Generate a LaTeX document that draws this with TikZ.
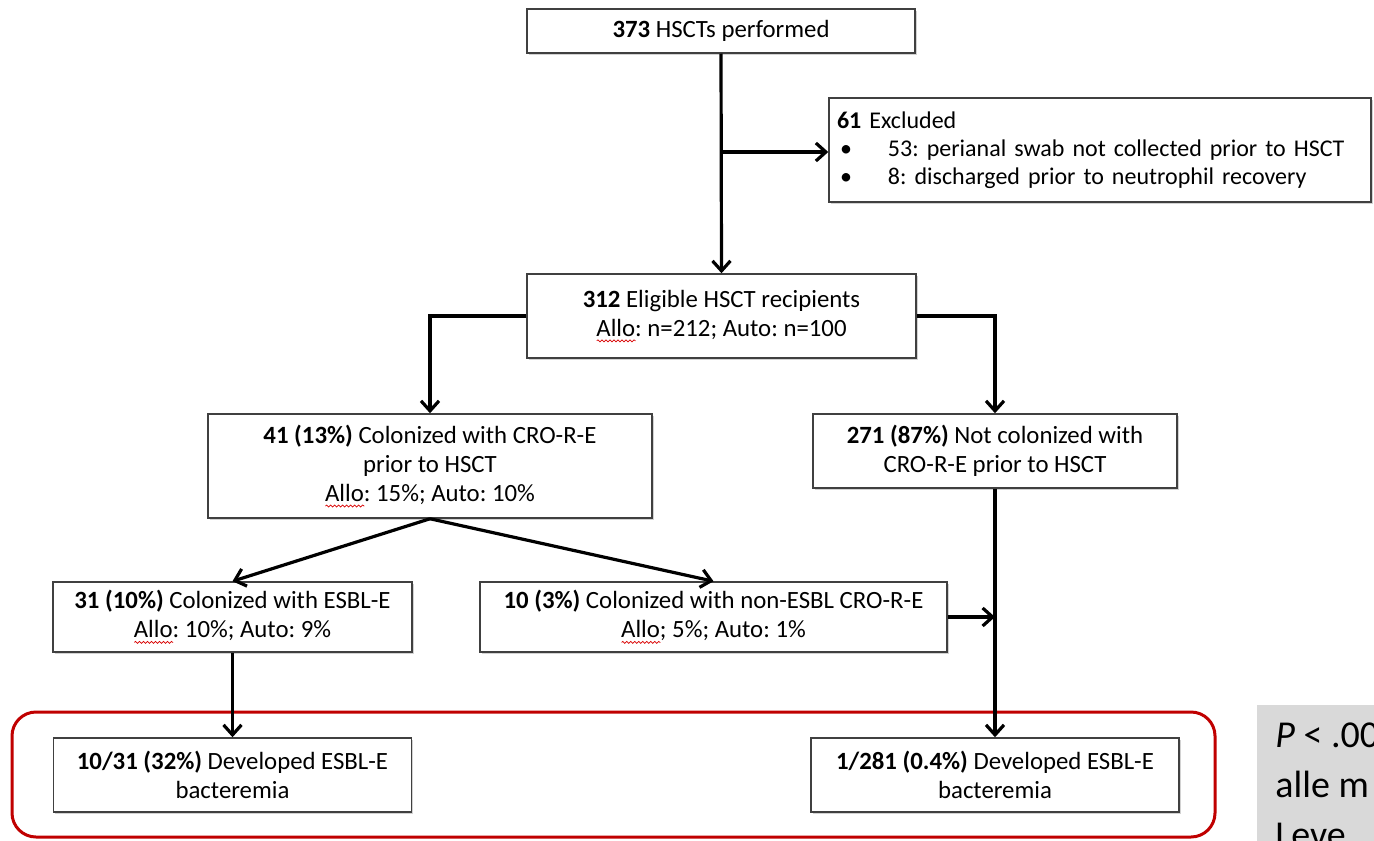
\documentclass[tikz,border=0pt]{standalone}
\usepackage{fontspec}
\setmainfont{Carlito}
\frenchspacing
\usetikzlibrary{arrows.meta,shadows,decorations.pathmorphing}
\definecolor{boxline}{gray}{0.25}
\definecolor{redline}{RGB}{192,0,0}
\definecolor{grayfill}{RGB}{217,217,217}
\newlength\wavylen
\newcommand\wavy[1]{\settowidth\wavylen{#1}\rlap{\tikz[baseline=0pt,x=1pt,y=1pt]\draw[draw=red!85!black,fill=none,line width=0.35pt,decorate,decoration={snake,amplitude=0.5pt,segment length=2pt}] (0pt,-2.3pt) -- (\wavylen,-2.3pt);}#1}
\tikzset{
  box/.style={draw=boxline, line width=0.75pt, fill=white, inner sep=0pt, align=center,
    font=\fontsize{12.4}{14.6}\selectfont,
    drop shadow={shadow xshift=0.8pt, shadow yshift=-0.8pt, opacity=0.35}},
  conn/.style={line width=1.6pt, -{Straight Barb[length=5pt,width=9pt]}},
}
\begin{document}
\begin{tikzpicture}[x=0.5pt,y=-0.5pt]
\clip (0,0) rectangle (1374,840);
\fill[white] (0,0) rectangle (1374,840);
% red highlight
\draw[redline, line width=1.5pt, rounded corners=12pt] (12,712) rectangle (1215,837);
% grey note
\fill[grayfill] (1257,705) rectangle (1400,860);
\node[anchor=north west, align=left, inner sep=0pt, font=\fontsize{19}{25}\selectfont] (pv) at (1275,722)
  {\textit{P} < .00\\alle m\\Leve};
% boxes
\node[box, minimum width=194pt, minimum height=22pt] (top) at (721,31) {\textbf{373} HSCTs performed};
\node[box, minimum width=271pt, minimum height=52pt, align=left, text width=263pt,
      font=\fontsize{12}{14}\selectfont] (excl) at (1100,150)
  {\textbf{61} Excluded\\
   \hspace*{1.5pt}\makebox[24pt][l]{\textbullet}53: perianal swab not collected prior to HSCT\\
   \hspace*{1.5pt}\makebox[24pt][l]{\textbullet}8: discharged prior to neutrophil recovery};
\node[box, minimum width=194.5pt, minimum height=42pt] (elig) at (721.5,316)
  {\textbf{312} Eligible HSCT recipients\\\wavy{Allo}: n=212; Auto: n=100};
\node[box, minimum width=222pt, minimum height=52pt] (c41) at (430,466)
  {\textbf{41 (13\%)} Colonized with CRO-R-E\\prior to HSCT\\\wavy{Allo}: 15\%; Auto: 10\%};
\node[box, minimum width=182pt, minimum height=37pt] (c271) at (995,451)
  {\textbf{271 (87\%)} Not colonized with\\CRO-R-E prior to HSCT};
\node[box, minimum width=179.5pt, minimum height=35pt] (c31) at (232.5,617)
  {\textbf{31 (10\%)} Colonized with ESBL-E\\\wavy{Allo}: 10\%; Auto: 9\%};
\node[box, minimum width=233.5pt, minimum height=35pt] (c10) at (713.5,617)
  {\textbf{10 (3\%)} Colonized with non-ESBL CRO-R-E\\\wavy{Allo}; 5\%; Auto: 1\%};
\node[box, minimum width=179pt, minimum height=37pt] (d31) at (232.5,775)
  {\textbf{10/31 (32\%)} Developed ESBL-E\\bacteremia};
\node[box, minimum width=184pt, minimum height=37pt] (d281) at (995,775)
  {\textbf{1/281 (0.4\%)} Developed ESBL-E\\bacteremia};
% helper coordinate
\coordinate (j1) at (721,152);
% connectors
\draw[conn] (top.south) -- (elig.north);
\draw[conn] (j1) -- (j1 -| excl.west);
\draw[conn] (elig.west) -| (c41.north);
\draw[conn] (elig.east) -| (c271.north);
\draw[conn] (c41.south) -- (c31.north);
\draw[conn] (c41.south) -- (c10.north);
\draw[conn] (c271.south) -- (d281.north);
\draw[conn] (c10.east) -- (c10.east -| c271.south);
\draw[conn] (c31.south) -- (d31.north);
\end{tikzpicture}
\end{document}
